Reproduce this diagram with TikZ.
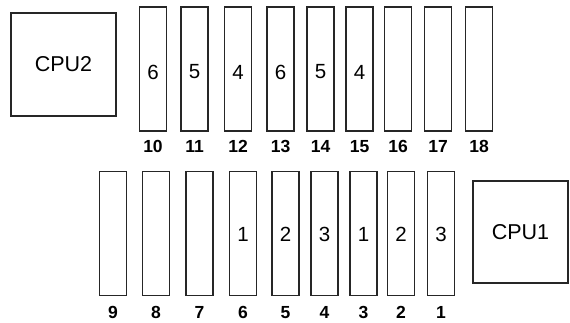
\documentclass[tikz,border=0pt]{standalone}
\usepackage{fontspec}
\setmainfont{Liberation Sans}
\begin{document}
\begin{tikzpicture}[x=1pt,y=-1pt,
  slotbox/.style={draw=black!85,line width=1.1pt,minimum width=27pt,minimum height=124pt,inner sep=0pt},
  cpubox/.style={draw=black!85,line width=1.1pt,minimum width=105pt,minimum height=103pt,inner sep=0pt,font=\fontsize{21.5}{22}\selectfont},
  slotnum/.style={font=\fontsize{20.5}{21}\selectfont,inner sep=0pt},
  slotlbl/.style={font=\bfseries\fontsize{17.5}{18}\selectfont,inner sep=0pt}]
\useasboundingbox (0,0) rectangle (570,322);
\node[cpubox] (cpu2) at (63.5,64.5) {CPU2};
\node[cpubox,minimum width=95pt,minimum height=102pt] (cpu1) at (520.5,232) {CPU1};
\foreach \n/\x/\t in {10/153/6,11/194.5/5,12/238/4,13/280.5/6,14/320.5/5,15/359.5/4,16/398/,17/438/,18/479/}{
  \node[slotbox] (s\n) at (\x,69) {};
  \node[slotnum] (t\n) at (\x,72) {\t};
  \node[slotlbl] (l\n) at (\x,146.5) {\n};
}
\foreach \n/\x/\t in {9/113/,8/156/,7/199.5/,6/243/1,5/285.5/2,4/324.5/3,3/363.5/1,2/401/2,1/441/3}{
  \node[slotbox] (s\n) at (\x,233.5) {};
  \node[slotnum] (t\n) at (\x,234) {\t};
  \node[slotlbl] (l\n) at (\x,312.5) {\n};
}
\end{tikzpicture}
\end{document}
